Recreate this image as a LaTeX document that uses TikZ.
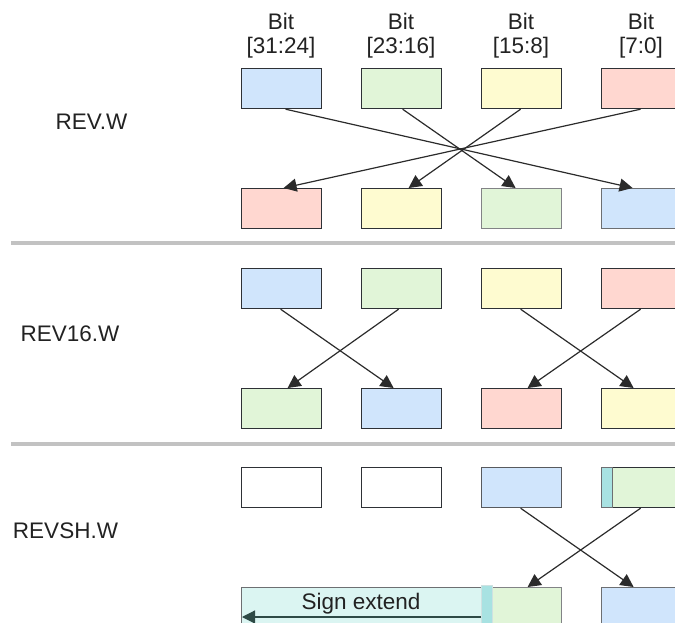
\documentclass[tikz,border=0pt]{standalone}
\usepackage{fontspec}
\setmainfont{Liberation Sans}
\usetikzlibrary{arrows.meta}
\definecolor{cblue}{HTML}{D0E5FC}
\definecolor{cgreen}{HTML}{E1F5D8}
\definecolor{cyellow}{HTML}{FEFBD0}
\definecolor{cred}{HTML}{FFD7D0}
\definecolor{cstrip}{HTML}{A8E2E2}
\definecolor{csign}{HTML}{DBF5F2}
\definecolor{cborder}{HTML}{2E3136}
\definecolor{cline}{HTML}{2B2B2B}
\definecolor{ctext}{HTML}{222222}
\definecolor{csep}{HTML}{C2C2C2}
\definecolor{carrow}{HTML}{2E4A46}
\begin{document}
\begin{tikzpicture}[x=1pt,y=-1pt,
  box/.style={draw=cborder, line width=1.2pt, minimum width=80pt, minimum height=40pt, inner sep=0pt, anchor=north west},
  strip/.style={draw=cborder!70, line width=0.8pt, fill=cstrip, minimum width=11pt, minimum height=40pt, inner sep=0pt, anchor=north west},
  conn/.style={draw=cline, line width=1.2pt, -{Triangle[length=13pt,width=13pt]}},
  lbl/.style={font=\fontsize{22.5}{24}\selectfont, text=ctext, align=center, inner sep=0pt},
  sep/.style={draw=csep, line width=3.5pt}]
\useasboundingbox (0,0) rectangle (675,623);
\clip (0,0) rectangle (675,623);

% header labels
\node[lbl, anchor=base] (h1) at (281,53.3) {Bit\\{[31:24]}};
\node[lbl, anchor=base] (h2) at (401,53.3) {Bit\\{[23:16]}};
\node[lbl, anchor=base] (h3) at (521,53.3) {Bit\\{[15:8]}};
\node[lbl, anchor=base] (h4) at (641,53.3) {Bit\\{[7:0]}};

% section labels
\node[lbl, anchor=base] (l1) at (91.5,130) {REV.W};
\node[lbl, anchor=base] (l2) at (70,341) {REV16.W};
\node[lbl, anchor=base] (l3) at (65.5,538) {REVSH.W};

% separators
\coordinate (sA) at (11,243);
\coordinate (sB) at (680,243);
\coordinate (sC) at (11,444);
\coordinate (sD) at (680,444);
\draw[sep] (sA) -- (sB);
\draw[sep] (sC) -- (sD);

% ---- REV.W
\node[box, fill=cblue]   (a1) at (241,68) {};
\node[box, fill=cgreen]  (a2) at (361,68) {};
\node[box, fill=cyellow] (a3) at (481,68) {};
\node[box, fill=cred]    (a4) at (601,68) {};
\node[box, fill=cred]    (b1) at (241,188) {};
\node[box, fill=cyellow] (b2) at (361,188) {};
\node[box, fill=cgreen, draw=cborder!60]  (b3) at (481,188) {};
\node[box, fill=cblue, draw=cborder!70]   (b4) at (601,188) {};
\draw[conn] ([xshift=4pt]a1.south) -- ([xshift=-9pt]b4.north);
\draw[conn] ([xshift=1pt]a2.south) -- ([xshift=-6pt]b3.north);
\draw[conn] ([xshift=-1pt]a3.south) -- ([xshift=7pt]b2.north);
\draw[conn] ([xshift=-1pt]a4.south) -- ([xshift=2pt]b1.north);

% ---- REV16.W
\node[box, fill=cblue]   (c1) at (241,268) {};
\node[box, fill=cgreen]  (c2) at (361,268) {};
\node[box, fill=cyellow] (c3) at (481,268) {};
\node[box, fill=cred]    (c4) at (601,268) {};
\node[box, fill=cgreen]  (d1) at (241,388) {};
\node[box, fill=cblue]   (d2) at (361,388) {};
\node[box, fill=cred]    (d3) at (481,388) {};
\node[box, fill=cyellow] (d4) at (601,388) {};
\draw[conn] ([xshift=-1pt]c1.south) -- ([xshift=-8pt]d2.north);
\draw[conn] ([xshift=-3pt]c2.south) -- ([xshift=6pt]d1.north);
\draw[conn] ([xshift=-1pt]c3.south) -- ([xshift=-8pt]d4.north);
\draw[conn] ([xshift=-1pt]c4.south) -- ([xshift=6pt]d3.north);

% ---- REVSH.W
\node[box, fill=white]   (e1) at (241,467) {};
\node[box, fill=white]   (e2) at (361,467) {};
\node[box, fill=cblue, draw=cborder!80] (e3) at (481,467) {};
\node[box, fill=cgreen]  (e4) at (601,467) {};
\node[strip]             (e4s) at (601,467) {};
\node[box, fill=csign, draw=cborder!70, minimum width=240pt] (se) at (241,587) {};
\node[box, fill=cgreen, draw=cborder!60] (f3) at (481,587) {};
\node[strip, draw=cstrip!80!black!40, minimum height=42pt] (f3s) at (481,585) {};
\node[box, fill=cblue, draw=cborder!70] (f4) at (601,587) {};
\node[lbl, anchor=base] (selbl) at (361,609) {Sign extend};
\coordinate (seend) at (242,617);
\draw[draw=carrow, line width=1.2pt, -{Triangle[length=13pt,width=13pt]}] (f3s.west |- seend) -- (seend);
\draw[conn] ([xshift=-1pt]e3.south) -- ([xshift=-8pt]f4.north);
\draw[conn] ([xshift=-1pt]e4.south) -- ([xshift=6pt]f3.north);
\end{tikzpicture}
\end{document}
